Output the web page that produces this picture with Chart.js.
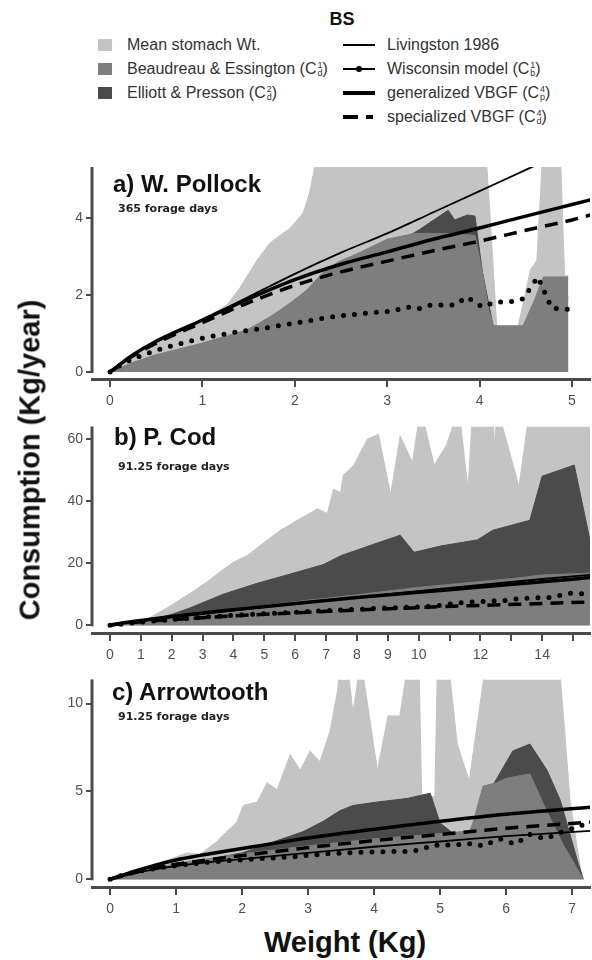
<!DOCTYPE html>
<html>
<head>
<meta charset="utf-8">
<title>BS consumption</title>
<script src="https://cdn.jsdelivr.net/npm/chart.js@4.4.1/dist/chart.umd.min.js"></script>
<style>
    body { margin: 0; background: #fff; }
    #page { position: relative; width: 592px; height: 960px; overflow: hidden; font-family: 'Liberation Sans', Arial, sans-serif; color: #222; }
    canvas { position: absolute; left: 0; }
    .txt { position: absolute; white-space: nowrap; }
    .title { font-weight: bold; font-size: 24px; line-height: 24px; color: #111; }
    .days { font-family: 'DejaVu Sans', sans-serif; font-weight: bold; font-size: 11px; line-height: 11px; color: #222; }
    .axis { font-weight: bold; font-size: 29px; line-height: 29px; color: #111; }
    .row { position: absolute; height: 20px; display: flex; align-items: center; font-size: 16px; line-height: 20px; color: #333; white-space: nowrap; }
    .sw { width: 14px; height: 12px; margin-right: 15px; flex: none; }
    .ln { width: 32px; height: 12px; margin-right: 12px; position: relative; flex: none; }
    .ln i { position: absolute; left: 0; right: 0; background: #000; }
    .cs { display: inline-block; vertical-align: middle; font-size: 9px; line-height: 8px; margin-left: 1px; }
    .cs span { display: block; }
</style>
</head>
<body>
<div id="page">
    <div class="txt" style="left:342px;top:10px;transform:translateX(-50%);font-weight:bold;font-size:18px;line-height:18px;color:#111">BS</div>

    <div class="row" style="left:98px;top:35px"><div class="sw" style="background:#c4c4c4"></div>Mean stomach Wt.</div>
    <div class="row" style="left:98px;top:59px"><div class="sw" style="background:#7e7e7e"></div>Beaudreau &amp; Essington (C<span class="cs"><span>1</span><span>d</span></span>)</div>
    <div class="row" style="left:98px;top:83px"><div class="sw" style="background:#4b4b4b"></div>Elliott &amp; Presson (C<span class="cs"><span>2</span><span>d</span></span>)</div>

    <div class="row" style="left:343px;top:35px"><div class="ln"><i style="top:5px;height:2px"></i></div>Livingston 1986</div>
    <div class="row" style="left:343px;top:59px"><div class="ln"><i style="top:5px;height:2px"></i><i style="top:3px;left:13px;right:13px;height:6px;border-radius:3px"></i></div>Wisconsin model (C<span class="cs"><span>1</span><span>b</span></span>)</div>
    <div class="row" style="left:343px;top:83px"><div class="ln"><i style="top:4px;height:4px"></i></div>generalized VBGF (C<span class="cs"><span>4</span><span>p</span></span>)</div>
    <div class="row" style="left:343px;top:107px"><div class="ln"><i style="top:4px;height:4px;background:linear-gradient(to right,#000 0 15px,transparent 15px 23px,#000 23px 30px,transparent 30px)"></i></div>specialized VBGF (C<span class="cs"><span>4</span><span>d</span></span>)</div>

    <canvas id="chartA" width="592" height="265" style="top:150px"></canvas>
    <canvas id="chartB" width="592" height="253" style="top:415px"></canvas>
    <canvas id="chartC" width="592" height="257" style="top:668px"></canvas>

    <div class="txt title" style="left:113px;top:172px">a) W. Pollock</div>
    <div class="txt days" style="left:118px;top:203px">365 forage days</div>
    <div class="txt title" style="left:114px;top:425px">b) P. Cod</div>
    <div class="txt days" style="left:118px;top:461px">91.25 forage days</div>
    <div class="txt title" style="left:112px;top:680px">c) Arrowtooth</div>
    <div class="txt days" style="left:118px;top:711px">91.25 forage days</div>

    <div class="txt axis" style="left:30px;top:460px;transform:translate(-50%,-50%) rotate(-90deg)">Consumption (Kg/year)</div>
    <div class="txt axis" style="left:345px;top:928px;transform:translateX(-50%)">Weight (Kg)</div>
</div>

<script>
// a) W. Pollock
const A_X_TICKS = [0, 1, 2, 3, 4, 5];
const A_X_LABELS = ['0', '1', '2', '3', '4', '5'];
const A_Y_TICKS = [0, 2, 4];
const A_Y_LABELS = ['0', '2', '4'];
const A_LIGHT_X = [0, 0.5, 1.0, 1.27, 1.41, 1.59, 1.73, 1.95, 2.09, 2.16, 2.27, 4.06, 4.11, 4.19, 4.4, 4.55, 4.62, 4.69, 4.87, 4.92, 4.96];
const A_LIGHT_Y = [0, 0.78, 1.35, 1.75, 2.2, 2.9, 3.35, 3.74, 4.13, 4.65, 6.0, 6.0, 4.2, 1.0, 1.0, 2.65, 2.9, 6.0, 6.0, 2.5, 2.5];
const A_DARK_X = [0, 0.5, 1.0, 1.5, 2.0, 2.5, 3.0, 3.35, 3.66, 3.73, 3.87, 3.95, 4.03, 4.15, 4.47, 4.63, 4.96];
const A_DARK_Y = [0, 0.4, 0.7, 1.05, 1.6, 2.5, 3.2, 3.7, 4.2, 3.95, 4.08, 4.05, 2.6, 1.15, 1.15, 1.85, 1.95];
const A_MED_X = [0, 0.25, 0.5, 1.0, 1.22, 1.48, 1.73, 1.95, 2.13, 2.31, 2.47, 2.7, 3.0, 3.3, 3.6, 3.95, 4.03, 4.1, 4.15, 4.47, 4.6, 4.69, 4.96];
const A_MED_Y = [0, 0.25, 0.45, 0.75, 0.91, 1.09, 1.43, 1.79, 2.13, 2.6, 2.86, 3.1, 3.45, 3.6, 3.6, 3.55, 2.6, 1.6, 1.2, 1.2, 1.9, 2.47, 2.47];
const A_LINE_X = [0, 0.25, 0.5, 1, 1.5, 2, 2.5, 3, 3.5, 4, 4.5, 5, 5.2];
const A_LIV_Y = [0, 0.45, 0.78, 1.35, 1.95, 2.55, 3.1, 3.6, 4.15, 4.7, 5.25, 5.8, 6.0];
const A_GEN_Y = [0, 0.45, 0.8, 1.35, 1.9, 2.4, 2.8, 3.12, 3.45, 3.74, 4.05, 4.35, 4.47];
const A_SPEC_Y = [0, 0.42, 0.75, 1.28, 1.8, 2.25, 2.6, 2.88, 3.15, 3.4, 3.68, 3.95, 4.08];
const A_WISC_X = [0, 0.125, 0.25, 0.375, 0.5, 0.625, 0.75, 0.875, 1.0, 1.125, 1.25, 1.375, 1.5, 1.625, 1.75, 1.875, 2.0, 2.125, 2.25, 2.375,
    2.46, 2.58, 2.69, 2.83, 2.95, 3.07, 3.2, 3.34, 3.47, 3.6, 3.73, 3.86, 4.03, 4.17, 4.33, 4.47, 4.63, 4.78, 4.96];
const A_WISC_Y = [0, 0.2, 0.34, 0.46, 0.56, 0.65, 0.73, 0.81, 0.88, 0.94, 0.99, 1.04, 1.08, 1.12, 1.17, 1.22, 1.27, 1.32, 1.37, 1.42,
    1.45, 1.48, 1.5, 1.55, 1.56, 1.59, 1.69, 1.64, 1.74, 1.74, 1.74, 1.95, 1.69, 1.82, 1.82, 1.9, 2.47, 1.66, 1.63];

// b) P. Cod
const B_X_TICKS = [0, 1, 2, 3, 4, 5, 6, 7, 8, 9, 10, 11, 12, 13, 14, 15];
const B_X_LABELS = ['0', '1', '2', '3', '4', '5', '6', '7', '8', '9', '10', '', '12', '', '14', ''];
const B_Y_TICKS = [0, 20, 40, 60];
const B_Y_LABELS = ['0', '20', '40', '60'];
const B_LIGHT_X = [0, 0.97, 1.85, 2.6, 3.15, 3.67, 4.0, 4.45, 4.97, 5.52, 6.07, 6.72, 7.04, 7.24, 7.47, 7.56, 7.9, 8.34, 8.7, 9.09, 9.4, 9.8, 10.06, 10.5, 10.9, 11.3, 11.6, 11.75, 12.4, 12.45, 12.55, 13.25, 13.6, 15.6];
const B_LIGHT_Y = [0, 0.6, 5.6, 10.3, 14, 18, 20.3, 22.5, 26.5, 30.6, 33.8, 37.5, 36, 43.8, 42.8, 48.4, 51.6, 60, 61.5, 42, 61, 52.5, 70, 51.6, 58, 70, 43.8, 70, 70, 58, 70, 44.7, 70, 70];
const B_DARK_X = [0, 1, 2, 2.6, 3.67, 4.77, 5.84, 6.9, 7.5, 8.0, 8.66, 9.4, 9.85, 10.7, 11.9, 12.4, 13.6, 14.0, 15.04, 15.6];
const B_DARK_Y = [0, 1, 3.5, 5.6, 10, 13.5, 16.5, 19.5, 22.5, 24.2, 26.5, 29, 23.5, 25.5, 27.5, 30.6, 33.8, 48, 51.6, 25];
const B_MED_X = [0, 2, 4, 6, 8, 10, 11.5, 13, 14, 15.6];
const B_MED_Y = [0, 2.7, 5.2, 7.6, 9.8, 12.2, 13.6, 15, 16.2, 16.8];
const B_LINE_X = [0, 0.5, 1, 2, 4, 6, 8, 10, 12, 14, 15.6];
const B_LIV_Y = [0, 0.8, 1.4, 2.6, 4.8, 6.9, 9.0, 11.0, 13.0, 14.9, 16.3];
const B_GEN_Y = [0, 0.9, 1.5, 2.8, 5.0, 7.0, 8.9, 10.6, 12.3, 14.0, 15.4];
const B_SPEC_Y = [0, 0.6, 1.1, 1.8, 3.0, 4.0, 4.9, 5.7, 6.4, 7.0, 7.5];
const B_WISC_X = [0, 0.4, 0.8, 1.2, 1.6, 2.0, 2.4, 2.8, 3.2, 3.6, 4.0, 4.4, 4.8, 5.2, 5.6, 6.0, 6.4, 6.8, 7.2, 7.6, 8.0, 8.4, 8.8, 9.2, 9.6, 10.0, 10.4, 10.8, 11.3, 11.8, 12.3, 12.8, 13.3, 13.8, 14.3, 14.9, 15.5];
const B_WISC_Y = [0, 0.4, 0.8, 1.2, 1.5, 1.8, 2.1, 2.4, 2.7, 2.9, 3.2, 3.4, 3.6, 3.8, 4.0, 4.2, 4.4, 4.6, 4.8, 5.0, 5.1, 5.3, 5.5, 5.6, 5.8, 5.9, 6.1, 6.5, 7.2, 7.5, 7.8, 8.0, 8.6, 8.8, 9.0, 10.3, 10.0];

// c) Arrowtooth
const C_X_TICKS = [0, 1, 2, 3, 4, 5, 6, 7];
const C_X_LABELS = ['0', '1', '2', '3', '4', '5', '6', '7'];
const C_Y_TICKS = [0, 5, 10];
const C_Y_LABELS = ['0', '5', '10'];
const C_LIGHT_X = [0, 0.95, 1.17, 1.36, 1.62, 1.71, 1.92, 2.02, 2.23, 2.38, 2.53, 2.73, 2.88, 3.03, 3.18, 3.33, 3.44, 3.5, 3.59, 3.68, 3.8, 4.05, 4.21, 4.39, 4.52, 4.68, 4.72, 4.92, 4.96, 5.12, 5.26, 5.44, 5.7, 6.8, 6.97, 7.15];
const C_LIGHT_Y = [0, 1.2, 1.5, 1.4, 2.15, 2.5, 3.25, 4.2, 4.4, 5.5, 5.1, 7.1, 6.2, 7.3, 6.7, 8.4, 10.6, 12.5, 12.5, 9.5, 12.5, 6.2, 9.3, 9.3, 12.5, 12.5, 4.7, 4.7, 12.5, 12.5, 7.7, 5.6, 12.5, 12.5, 4.4, 0];
const C_DARK_X = [0, 1, 2, 2.53, 2.92, 3.23, 3.48, 3.68, 4.05, 4.5, 4.85, 5.0, 5.2, 5.5, 5.62, 5.76, 6.1, 6.36, 6.62, 6.82, 7.08, 7.17];
const C_DARK_Y = [0, 0.8, 1.5, 2.2, 2.7, 3.3, 3.9, 4.2, 4.4, 4.6, 4.9, 3.2, 2.6, 2.7, 3.5, 5.1, 7.3, 7.7, 6.2, 4.5, 1.05, 0];
const C_MED_X = [0, 1, 2, 3, 4, 5.0, 5.45, 5.5, 5.65, 5.86, 6.0, 6.36, 6.6, 6.86, 7.17];
const C_MED_Y = [0, 0.9, 1.45, 1.9, 2.3, 2.6, 2.75, 3.25, 5.3, 5.5, 5.75, 6.0, 4.0, 2.0, 0];
const C_LINE_X = [0, 0.5, 1, 2, 3, 4, 5, 6, 7.27];
const C_LIV_Y = [0, 0.45, 0.75, 1.15, 1.5, 1.85, 2.15, 2.45, 2.75];
const C_GEN_Y = [0, 0.6, 1.1, 1.75, 2.35, 2.85, 3.3, 3.7, 4.1];
const C_SPEC_Y = [0, 0.5, 0.85, 1.35, 1.8, 2.2, 2.55, 2.9, 3.25];
const C_WISC_X = [0, 0.2, 0.4, 0.6, 0.8, 1.0, 1.2, 1.4, 1.6, 1.8, 2.0, 2.2, 2.4, 2.6, 2.8, 3.0, 3.2, 3.4, 3.6, 3.8, 4.0, 4.2, 4.4, 4.6, 4.75, 4.9, 5.05, 5.2, 5.35, 5.5, 5.65, 5.9, 6.14, 6.36, 6.6, 6.85, 7.17];
const C_WISC_Y = [0, 0.25, 0.42, 0.56, 0.68, 0.78, 0.86, 0.94, 1.0, 1.06, 1.1, 1.15, 1.2, 1.24, 1.28, 1.36, 1.42, 1.47, 1.5, 1.53, 1.55, 1.57, 1.58, 1.6, 1.75, 1.95, 1.9, 2.0, 1.95, 2.05, 1.9, 2.3, 2.0, 2.55, 2.3, 2.7, 3.1];

const grey = { light: '#c4c4c4', mid: '#7e7e7e', dark: '#4b4b4b' };
const axisColor = '#4a4a4a';
const tickFont = { family: "'Liberation Sans', Arial, sans-serif", size: 14 };

// y axis line runs from 0 up to the top only, the x axis sits a little lower
const yAxisLine = {
    id: 'yAxisLine',
    afterDraw(chart) {
        const { ctx, chartArea, scales } = chart;
        const x = chartArea.left;
        ctx.save();
        ctx.strokeStyle = axisColor;
        ctx.lineWidth = 3;
        ctx.beginPath();
        ctx.moveTo(x, scales.y.getPixelForValue(0) + 1);
        ctx.lineTo(x, chartArea.top);
        ctx.stroke();
        ctx.restore();
    },
};

function pts(xs, ys) {
    return xs.map((x, i) => ({ x, y: ys[i] }));
}

function area(xs, ys, color, order) {
    return {
        data: pts(xs, ys),
        backgroundColor: color,
        borderColor: color,
        borderWidth: 1,
        pointRadius: 0,
        tension: 0,
        fill: 'origin',
        order,
    };
}

function curve(xs, ys, width, dash, order) {
    return {
        data: pts(xs, ys),
        borderColor: '#000',
        borderWidth: width,
        borderDash: dash,
        pointRadius: 0,
        fill: false,
        cubicInterpolationMode: 'monotone',
        order,
    };
}

function dotted(xs, ys, order) {
    return {
        data: pts(xs, ys),
        borderColor: '#000',
        borderWidth: 5,
        borderDash: [0, 11],
        borderCapStyle: 'round',
        pointRadius: 0,
        tension: 0,
        fill: false,
        order,
    };
}

function makePanel(id, p) {
    new Chart(document.getElementById(id), {
        type: 'line',
        data: {
            datasets: [
                curve(p.lineX, p.liv, 1.8, [], 1),
                curve(p.lineX, p.gen, 3.5, [], 2),
                curve(p.lineX, p.spec, 3.5, [13, 8], 3),
                dotted(p.wiscX, p.wisc, 4),
                area(p.medX, p.med, grey.mid, 5),
                area(p.darkX, p.dark, grey.dark, 6),
                area(p.lightX, p.light, grey.light, 7),
            ],
        },
        options: {
            responsive: false,
            animation: false,
            events: [],
            layout: { padding: { top: p.padTop, right: 2, left: 0, bottom: 0 } },
            plugins: { legend: { display: false }, tooltip: { enabled: false } },
            scales: {
                x: {
                    type: 'linear',
                    min: p.xMin,
                    max: p.xMax,
                    afterBuildTicks: s => { s.ticks = p.xTicks.map(v => ({ value: v })); },
                    afterFit: s => { s.height = p.xAxisH; s.paddingLeft = 0; s.paddingRight = 0; },
                    border: { display: true, color: axisColor, width: 3 },
                    grid: { drawOnChartArea: false, tickLength: 8, color: axisColor, lineWidth: 2 },
                    ticks: { padding: 6, color: '#505050', font: tickFont, maxRotation: 0, autoSkip: false, callback: (v, i) => p.xLabels[i] },
                },
                y: {
                    min: p.yMin,
                    max: p.yMax,
                    afterBuildTicks: s => { s.ticks = p.yTicks.map(v => ({ value: v })); },
                    afterFit: s => { s.width = 92; },
                    border: { display: false },
                    grid: { drawOnChartArea: false, tickLength: 6, color: axisColor, lineWidth: 2 },
                    ticks: { padding: 3, color: '#505050', font: tickFont, callback: (v, i) => p.yLabels[i] },
                },
            },
        },
        plugins: [yAxisLine],
    });
}

document.addEventListener('DOMContentLoaded', () => {
    makePanel('chartA', {
        padTop: 17, xAxisH: 36,
        xMin: -0.195, xMax: 5.195, yMin: -0.182, yMax: 5.325,
        xTicks: A_X_TICKS, xLabels: A_X_LABELS, yTicks: A_Y_TICKS, yLabels: A_Y_LABELS,
        lightX: A_LIGHT_X, light: A_LIGHT_Y, darkX: A_DARK_X, dark: A_DARK_Y, medX: A_MED_X, med: A_MED_Y,
        lineX: A_LINE_X, liv: A_LIV_Y, gen: A_GEN_Y, spec: A_SPEC_Y, wiscX: A_WISC_X, wisc: A_WISC_Y,
    });
    makePanel('chartB', {
        padTop: 5, xAxisH: 35,
        xMin: -0.583, xMax: 15.55, yMin: -2.5, yMax: 64.06,
        xTicks: B_X_TICKS, xLabels: B_X_LABELS, yTicks: B_Y_TICKS, yLabels: B_Y_LABELS,
        lightX: B_LIGHT_X, light: B_LIGHT_Y, darkX: B_DARK_X, dark: B_DARK_Y, medX: B_MED_X, med: B_MED_Y,
        lineX: B_LINE_X, liv: B_LIV_Y, gen: B_GEN_Y, spec: B_SPEC_Y, wiscX: B_WISC_X, wisc: B_WISC_Y,
    });
    makePanel('chartC', {
        padTop: 5, xAxisH: 38,
        xMin: -0.273, xMax: 7.27, yMin: -0.442, yMax: 11.38,
        xTicks: C_X_TICKS, xLabels: C_X_LABELS, yTicks: C_Y_TICKS, yLabels: C_Y_LABELS,
        lightX: C_LIGHT_X, light: C_LIGHT_Y, darkX: C_DARK_X, dark: C_DARK_Y, medX: C_MED_X, med: C_MED_Y,
        lineX: C_LINE_X, liv: C_LIV_Y, gen: C_GEN_Y, spec: C_SPEC_Y, wiscX: C_WISC_X, wisc: C_WISC_Y,
    });
});
</script>
</body>
</html>
